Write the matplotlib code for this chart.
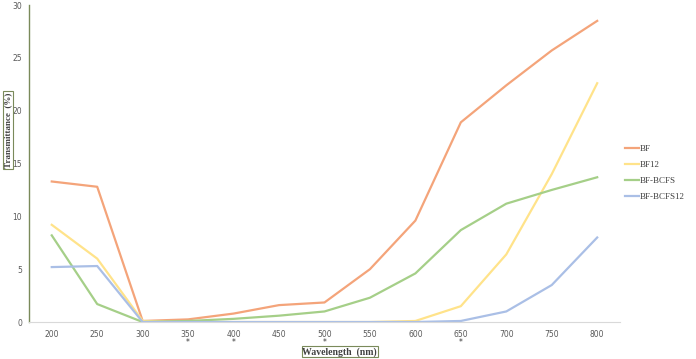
import matplotlib.pyplot as plt

# --- datos ---
longitudes = [200, 250, 300, 350, 400, 450, 500, 550, 600, 650, 700, 750, 800]
bf = [13.3, 12.8, 0.1, 0.25, 0.8, 1.6, 1.85, 5.0, 9.6, 18.9, 22.4, 25.7, 28.5]
bf12 = [9.2, 6.0, 0.1, 0.0, 0.0, 0.0, 0.0, 0.0, 0.1, 1.5, 6.4, 14.0, 22.6]
bf_bcfs = [8.2, 1.7, 0.0, 0.1, 0.3, 0.6, 1.0, 2.3, 4.6, 8.7, 11.2, 12.5, 13.7]
bf_bcfs12 = [5.2, 5.3, 0.0, 0.0, 0.0, 0.0, 0.0, 0.0, 0.0, 0.1, 1.0, 3.5, 8.0]
marcados = [350, 400, 500, 650]

series = [("BF", bf, "#F4A47A"),
          ("BF12", bf12, "#FFE38A"),
          ("BF-BCFS", bf_bcfs, "#A5CF88"),
          ("BF-BCFS12", bf_bcfs12, "#AABFE6")]

fig = plt.figure(figsize=(6.96, 3.59), dpi=100)
ax = fig.add_axes([0.0417, 0.103, 0.849, 0.883])

x = list(range(len(longitudes)))
for nombre, valores, color in series:
    ax.plot(x, valores, color=color, lw=1.6, label=nombre)

ax.set_xlim(-0.5, len(longitudes) - 0.5)
ax.set_ylim(0, 30)
ax.set_yticks([0, 5, 10, 15, 20, 25, 30])
ax.set_xticks(x)
ax.set_xticklabels([str(v) for v in longitudes])
ax.tick_params(length=0, labelsize=5.5, labelcolor="#595959", pad=6)
ax.tick_params(axis="y", pad=5)

for s in ["top", "right"]:
    ax.spines[s].set_visible(False)
ax.spines["left"].set_color("#7A8A5A")
ax.spines["left"].set_linewidth(1.0)
ax.spines["bottom"].set_color("#D9D9D9")
ax.spines["bottom"].set_linewidth(0.8)

# asteriscos bajo las etiquetas
for v in marcados:
    i = longitudes.index(v)
    ax.annotate("*", xy=(i, 0), xycoords=("data", "axes fraction"),
                xytext=(0, -15), textcoords="offset points",
                ha="center", va="center", fontsize=5.5, color="#333333")

caja = dict(boxstyle="square,pad=0.15", fc="white", ec="#7A8A5A", lw=0.8)
fig.text(0.0115, 0.638, "Transmittance  (%)", rotation=90, ha="center", va="center",
         family="Liberation Serif", fontweight="bold", fontsize=6.5, color="#404040",
         bbox=caja)
fig.text(0.488, 0.02, "Wavelength  (nm)", ha="center", va="center",
         family="Liberation Serif", fontweight="bold", fontsize=7, color="#404040",
         bbox=dict(boxstyle="square,pad=0.08", fc="white", ec="#7A8A5A", lw=0.8))

leg = ax.legend(loc="center left", bbox_to_anchor=(0.995, 0.47), frameon=False,
                prop={"family": "Liberation Serif", "size": 6.5},
                handlelength=1.5, handletextpad=0.15, labelspacing=0.85)
for t in leg.get_texts():
    t.set_color("#404040")

fig.savefig("out.png", dpi=100)
